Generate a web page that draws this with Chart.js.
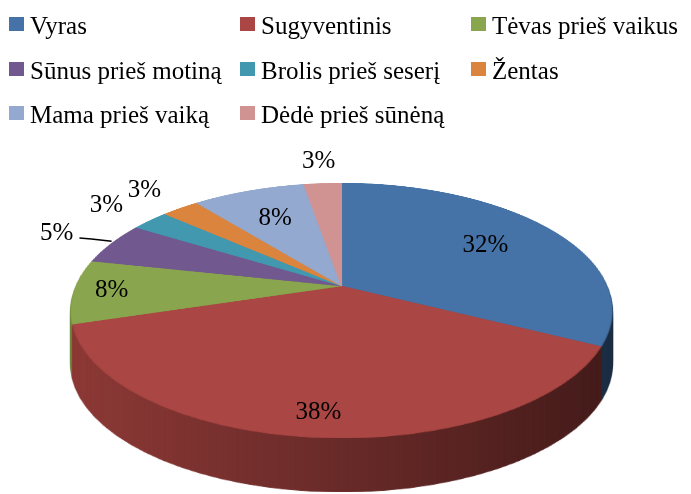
<!DOCTYPE html>
<html>
<head>
<meta charset="utf-8">
<script src="https://cdn.jsdelivr.net/npm/chart.js@4"></script>
<style>
  html, body { margin: 0; background: #fff; }
  #wrap { position: relative; width: 691px; height: 494px; overflow: hidden; }
  #pie { position: absolute; left: 0; top: 0; }
  #legend {
    position: absolute; left: 9px; top: 4px;
    display: grid; grid-template-columns: 231px 231px 220px; grid-auto-rows: 44.5px;
    font: 25px "Liberation Serif", "Times New Roman", serif; color: #000;
  }
  .item { display: flex; align-items: center; white-space: nowrap; }
  .box { width: 15px; height: 14px; margin-right: 6px; flex: none; position: relative; top: -2px; }
</style>
</head>
<body>
<div id="wrap">
  <canvas id="pie" width="691" height="494"></canvas>
  <div id="legend"></div>
</div>
<script>
// data
let categories = ["Vyras", "Sugyventinis", "Tėvas prieš vaikus", "Sūnus prieš motiną",
                  "Brolis prieš seserį", "Žentas", "Mama prieš vaiką", "Dėdė prieš sūnėną"]
let counts = [12, 14, 3, 2, 1, 1, 3, 1]
let colors = ["#4572A7", "#AA4643", "#89A54E", "#71588F", "#4198AF", "#DB843D", "#93A9CF", "#D19392"]
let withLeader = ["Sūnus prieš motiną"]

let total = counts.reduce((a, b) => a + b, 0)

// legend
let legend = document.getElementById("legend")
categories.forEach((name, i) => {
    let item = document.createElement("div")
    item.className = "item"
    let box = document.createElement("span")
    box.className = "box"
    box.style.background = colors[i]
    item.appendChild(box)
    item.appendChild(document.createTextNode(name))
    legend.appendChild(item)
})

// perspective of the tilted pie: apex, half axes, tilt, wall height
const X0 = 341.5, Y0 = 286, A = 265.5, B = 122.8, K = 0.192, DEPTH = 54

function project(u, v) {
    let w = 1 - K * v
    return { x: X0 + A * u / w, y: Y0 + B * v / w }
}

function makeCanvas(w, h) {
    let c = document.createElement("canvas")
    c.width = w
    c.height = h
    return c
}

const tilt = {
    id: "tilt",
    afterDatasetsDraw(chart) {
        let ctx = chart.ctx, W = chart.width, H = chart.height
        let arcs = chart.getDatasetMeta(0).data
        let cx = arcs[0].x, cy = arcs[0].y, R = arcs[0].outerRadius

        // flat pie drawn by chart.js -> copy
        let src = makeCanvas(W, H)
        src.getContext("2d").drawImage(chart.canvas, 0, 0)
        ctx.clearRect(0, 0, W, H)

        // warp rows into perspective
        let top = makeCanvas(W, H), tc = top.getContext("2d")
        let yStart = Math.floor(project(0, -1).y) - 1
        let yEnd = Math.ceil(project(0, 1).y) + 1
        for (let y = yStart; y <= yEnd; y++) {
            let dy = y + 0.5 - Y0
            let v = dy / (B + K * dy)
            if (v < -1 || v > 1) continue
            let w = 1 - K * v
            let sy = cy + R * v
            tc.drawImage(src, cx - R - 1, sy - 0.5, 2 * R + 2, 1,
                         X0 - A / w * (R + 1) / R, y, 2 * A / w * (R + 1) / R, 1)
        }

        // darker copy for the wall
        let side = makeCanvas(W, H), sc = side.getContext("2d")
        sc.drawImage(top, 0, 0)
        sc.globalCompositeOperation = "source-atop"
        let g = sc.createLinearGradient(X0 - A * 1.02, 0, X0 + A * 1.02, 0)
        g.addColorStop(0, "rgba(0,0,0,0.17)")
        g.addColorStop(1, "rgba(0,0,0,0.6)")
        sc.fillStyle = g
        sc.fillRect(0, 0, W, H)

        for (let d = DEPTH; d >= 1; d--) ctx.drawImage(side, 0, d)
        ctx.drawImage(top, 0, 0)

        // percentage labels
        ctx.save()
        ctx.font = '25px "Liberation Serif", "Times New Roman", serif'
        ctx.fillStyle = "#000"
        ctx.textAlign = "center"
        ctx.textBaseline = "middle"
        arcs.forEach((arc, i) => {
            let mid = (arc.startAngle + arc.endAngle) / 2
            let pct = Math.round(counts[i] / total * 100)
            let outside = pct <= 5
            let r = outside ? 1.26 : (Math.sin(mid) > 0 ? 0.86 : 0.68)
            let p = project(r * Math.cos(mid), r * Math.sin(mid))
            let text = pct + "%"
            ctx.fillText(text, p.x, p.y)
            if (withLeader.includes(categories[i])) {
                let rim = project(Math.cos(mid), Math.sin(mid))
                let sx = p.x + ctx.measureText(text).width / 2 + 6
                let sy = p.y + 5
                ctx.beginPath()
                ctx.moveTo(sx, sy)
                ctx.lineTo(sx + 12, sy + 1)
                ctx.lineTo(rim.x, rim.y - 2)
                ctx.strokeStyle = "#000"
                ctx.lineWidth = 1.5
                ctx.stroke()
            }
        })
        ctx.restore()
    }
}

new Chart(document.getElementById("pie"), {
    type: "pie",
    data: {
        labels: categories,
        datasets: [{
            data: counts,
            backgroundColor: colors,
            borderColor: colors,
            borderWidth: 1
        }]
    },
    options: {
        responsive: false,
        animation: false,
        events: [],
        layout: { padding: 0 },
        plugins: {
            legend: { display: false },
            tooltip: { enabled: false }
        }
    },
    plugins: [tilt]
})
</script>
</body>
</html>
